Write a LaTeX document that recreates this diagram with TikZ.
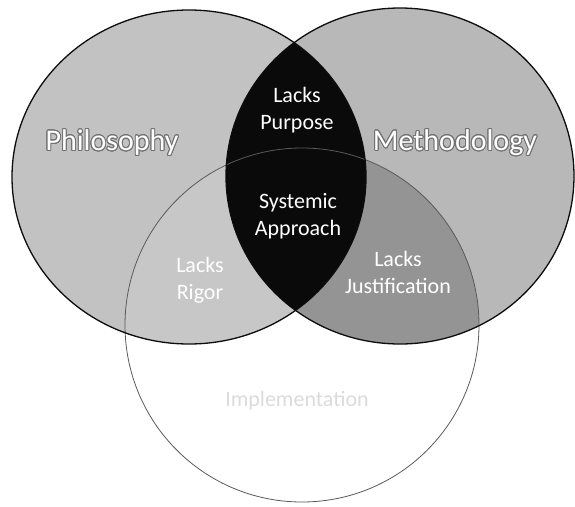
\documentclass[tikz,border=0pt]{standalone}
\usepackage{fontspec}
\setmainfont{Carlito}
\usepackage[copies]{contour}
\contourlength{0.9pt}
\contournumber{24}

% Region shades of the three-set diagram
\definecolor{philfill}{gray}{0.76}
\definecolor{methfill}{gray}{0.72}
\definecolor{rigorfill}{gray}{0.78}
\definecolor{justfill}{gray}{0.58}
\definecolor{corefill}{gray}{0.04}
\definecolor{setedge}{gray}{0.05}
\definecolor{lowedge}{gray}{0.35}
\definecolor{lowtext}{gray}{0.86}

\tikzset{
  setname/.style={font=\fontsize{30}{34}\selectfont, text=white, inner sep=0pt},
  zonelabel/.style={font=\fontsize{22}{27}\selectfont, text=white, align=center, inner sep=0pt},
  setline/.style={draw=setedge, line width=1.3pt},
  lowline/.style={draw=lowedge, line width=0.8pt}
}

\begin{document}
\begin{tikzpicture}[x=1pt,y=-1pt]
  \useasboundingbox (0,0) rectangle (575,506);

  % set outlines
  \def\philset{(189,177) ellipse [x radius=177, y radius=167]}
  \def\methset{(400,176) ellipse [x radius=174, y radius=168]}
  \def\implset{(302,325) circle [radius=177]}

  % single-set fills
  \fill[philfill] \philset;
  \fill[methfill] \methset;

  % pairwise overlaps
  \begin{scope}
    \clip \philset;
    \fill[rigorfill] \implset;
  \end{scope}
  \begin{scope}
    \clip \methset;
    \fill[justfill] \implset;
  \end{scope}
  \begin{scope}
    \clip \philset;
    \fill[corefill] \methset;
  \end{scope}

  % boundaries
  \draw[lowline] \implset;
  \draw[setline] \philset;
  \draw[setline] \methset;

  % labels
  \node[setname] (phil) at (112,143) {\contour{black!55}{Philosophy}};
  \node[setname] (meth) at (455,143) {\contour{black!55}{Methodology}};
  \node[zonelabel] (purpose) at (297,110) {Lacks\\Purpose};
  \node[zonelabel] (systemic) at (298,216) {Systemic\\Approach};
  \node[zonelabel] (rigor) at (200,280) {Lacks\\Rigor};
  \node[zonelabel] (justif) at (398,272) {Lacks\\Justification};
  \node[zonelabel, text=lowtext] (impl) at (297,401) {Implementation};
\end{tikzpicture}
\end{document}
